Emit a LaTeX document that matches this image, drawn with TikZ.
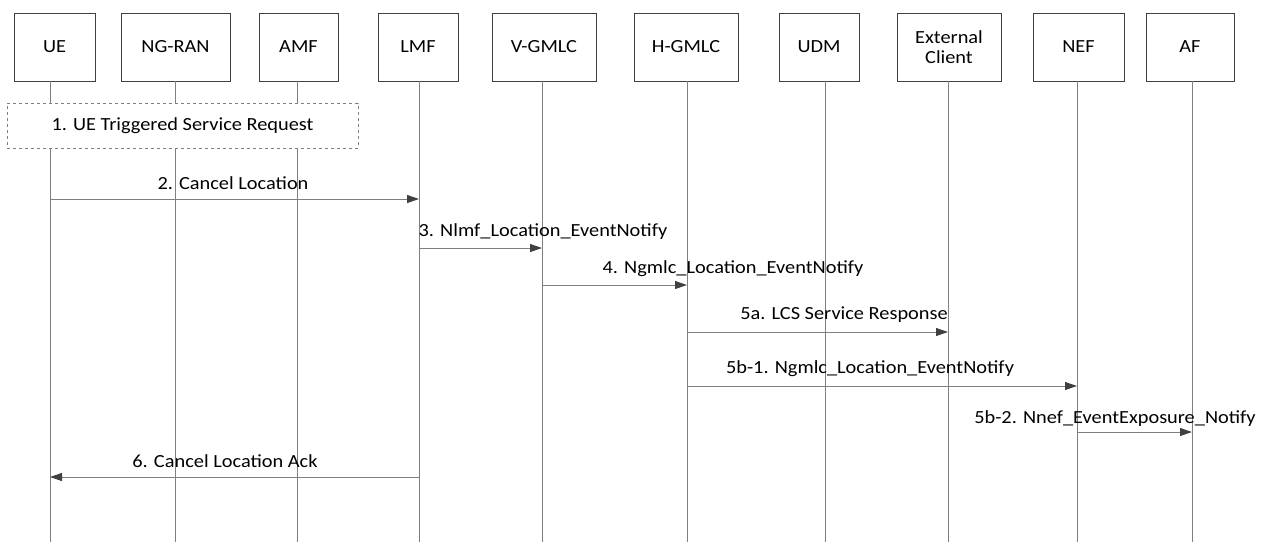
\documentclass[tikz,border=0pt]{standalone}
\usepackage{fontspec}
\setmainfont{Carlito}[FakeStretch=1.1]
\usetikzlibrary{arrows.meta}
\definecolor{boxc}{HTML}{404040}
\definecolor{linec}{HTML}{7F7F7F}
\definecolor{headc}{HTML}{404040}
\begin{document}
\begin{tikzpicture}[x=1pt,y=-1pt,
  ent/.style={draw=boxc, line width=0.8pt, fill=white, minimum height=68pt, inner sep=0pt,
              font=\fontsize{18.5}{20}\selectfont, align=center},
  life/.style={draw=linec, line width=1pt},
  msg/.style={draw=linec, line width=1pt, -{Triangle[length=12pt,width=8pt,color=headc]}},
  lbl/.style={font=\fontsize{18.5}{20}\selectfont, inner sep=0pt},
  grp/.style={draw=linec, dashed, line width=0.8pt, fill=white, font=\fontsize{18.5}{20}\selectfont}
]
\useasboundingbox (0,0) rectangle (1270,542);

% entities
\node[ent, minimum width=81pt]  (ue)   at (54.5,47)  {UE};
\node[ent, minimum width=109pt] (ran)  at (175.5,47) {NG-RAN};
\node[ent, minimum width=79pt]  (amf)  at (298.5,47) {AMF};
\node[ent, minimum width=80pt]  (lmf)  at (418,47)   {LMF};
\node[ent, minimum width=104pt] (vg)   at (544,47)   {V-GMLC};
\node[ent, minimum width=104pt] (hg)   at (686,47)   {H-GMLC};
\node[ent, minimum width=80pt]  (udm)  at (819,47)   {UDM};
\node[ent, minimum width=104pt] (ext)  at (949,47)   {External\\Client};
\node[ent, minimum width=91pt]  (nef)  at (1078.5,47) {NEF};
\node[ent, minimum width=88pt]  (af)   at (1190,47)  {AF};

% lifeline bottoms
\coordinate (ue-b)  at (50,542);
\coordinate (ran-b) at (175,542);
\coordinate (amf-b) at (297,542);
\coordinate (lmf-b) at (419,542);
\coordinate (vg-b)  at (542,542);
\coordinate (hg-b)  at (687,542);
\coordinate (udm-b) at (825,542);
\coordinate (ext-b) at (948,542);
\coordinate (nef-b) at (1077,542);
\coordinate (af-b)  at (1192,542);

\foreach \n in {ue,ran,amf,lmf,vg,hg,udm,ext,nef,af}
  \draw[life] (\n.south -| \n-b) -- (\n-b);

% step 1
\node[grp, minimum width=351pt, minimum height=45pt, inner sep=0pt] (s1) at (182.5,125.5)
  {1. UE Triggered Service Request};

% message rows
\coordinate (y2) at (0,199);
\coordinate (y3) at (0,248);
\coordinate (y4) at (0,285);
\coordinate (y5a) at (0,332);
\coordinate (y5b1) at (0,386);
\coordinate (y5b2) at (0,432);
\coordinate (y6) at (0,477);

\draw[msg] (ue-b |- y2) -- (lmf-b |- y2);
\node[lbl] (l2) at (233,183) {2. Cancel Location};

\draw[msg] (lmf-b |- y3) -- (vg-b |- y3);
\node[lbl] (l3) at (543,232) {3. Nlmf\_Location\_EventNotify};

\draw[msg] (vg-b |- y4) -- (hg-b |- y4);
\node[lbl] (l4) at (733,269) {4. Ngmlc\_Location\_EventNotify};

\draw[msg] (hg-b |- y5a) -- (ext-b |- y5a);
\node[lbl] (l5a) at (844,315) {5a. LCS Service Response};

\draw[msg] (hg-b |- y5b1) -- (nef-b |- y5b1);
\node[lbl] (l5b1) at (870,369) {5b-1. Ngmlc\_Location\_EventNotify};

\draw[msg] (nef-b |- y5b2) -- (af-b |- y5b2);
\node[lbl] (l5b2) at (1115,419) {5b-2. Nnef\_EventExposure\_Notify};

\draw[msg] (lmf-b |- y6) -- (ue-b |- y6);
\node[lbl] (l6) at (225,461) {6. Cancel Location Ack};
\end{tikzpicture}
\end{document}
